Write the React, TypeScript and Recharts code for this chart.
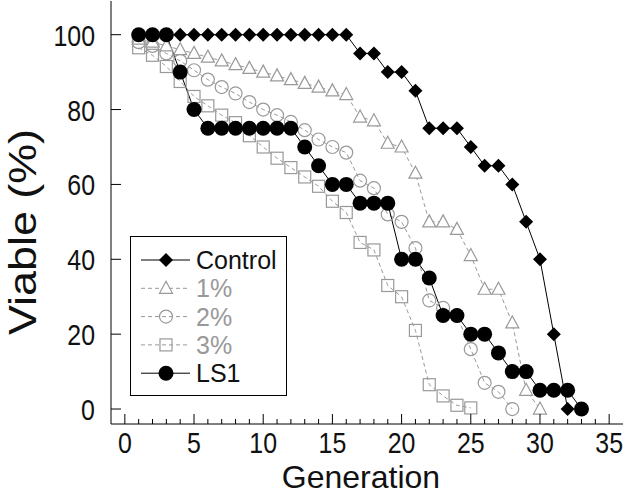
import { LineChart, Line, XAxis, YAxis, Label } from 'recharts';

const generations = [1, 2, 3, 4, 5, 6, 7, 8, 9, 10, 11, 12, 13, 14, 15, 16, 17, 18, 19, 20, 21, 22, 23, 24, 25, 26, 27, 28, 29, 30, 31, 32, 33];

const control = [100, 100, 100, 100, 100, 100, 100, 100, 100, 100, 100, 100, 100, 100, 100, 100, 95, 95, 90, 90, 85, 75, 75, 75, 70, 65, 65, 60, 50, 40, 20, 0];
const pct1 = [98.8, 98, 97, 96, 95, 94, 93, 92, 91, 90, 89, 88, 87, 86, 85, 84, 78, 77, 71, 70, 63, 50, 50, 48, 41, 32, 32, 23, 5, 0];
const pct2 = [98, 97, 95, 93, 90.5, 88, 86, 84.3, 82, 80, 78.5, 76.7, 74.5, 72, 70, 68.5, 61, 59, 52, 50, 43, 29, 27, 25, 16, 7, 4.6, 0];
const pct3 = [96.5, 94.5, 91.5, 87.5, 83.5, 81, 78.5, 76.5, 73, 70, 67, 64.5, 62, 59.5, 55.5, 52.5, 44.5, 42.5, 33, 30, 21, 6.5, 3.5, 1, 0.3];
const ls1 = [100, 100, 100, 90, 80, 75, 75, 75, 75, 75, 75, 75, 70, 65, 60, 60, 55, 55, 55, 40, 40, 35, 25, 25, 20, 20, 15, 10, 10, 5, 5, 5, 0];

const xTicks = [0, 1, 2, 3, 4, 5, 6, 7, 8, 9, 10, 11, 12, 13, 14, 15, 16, 17, 18, 19, 20, 21, 22, 23, 24, 25, 26, 27, 28, 29, 30, 31, 32, 33, 34, 35];
const yTicks = [0, 20, 40, 60, 80, 100];

const GRAY = '#999999';
const FONT = '"Liberation Sans", Arial, sans-serif';

const data = generations.map((g, i) => ({
  gen: g,
  control: control[i] ?? null,
  pct1: pct1[i] ?? null,
  pct2: pct2[i] ?? null,
  pct3: pct3[i] ?? null,
  ls1: ls1[i] ?? null,
}));

// marker shapes
const diamond = (cx: number, cy: number, r: number, key?: any) => (
  <path key={key} d={`M${cx},${cy - r}L${cx + r},${cy}L${cx},${cy + r}L${cx - r},${cy}Z`} fill="#000" />
);
const triangle = (cx: number, cy: number, key?: any) => (
  <path key={key} d={`M${cx},${cy - 7}L${cx + 6.5},${cy + 5}L${cx - 6.5},${cy + 5}Z`} fill="#fff" stroke={GRAY} strokeWidth={1.2} />
);
const ring = (cx: number, cy: number, key?: any) => (
  <circle key={key} cx={cx} cy={cy} r={6.5} fill="none" stroke={GRAY} strokeWidth={1.2} />
);
const square = (cx: number, cy: number, key?: any) => (
  <rect key={key} x={cx - 6} y={cy - 6} width={12} height={12} fill="none" stroke={GRAY} strokeWidth={1.2} />
);
const blob = (cx: number, cy: number, key?: any) => <circle key={key} cx={cx} cy={cy} r={7.5} fill="#000" />;

const dotOf = (draw: (cx: number, cy: number, key?: any) => any) => (p: any) => {
  if (p.cx == null || p.cy == null || p.value == null) return <g key={p.index} />;
  return draw(p.cx, p.cy, p.index);
};

const BottomTick = (p: any) => {
  const v = p.payload.value;
  const major = v % 5 === 0;
  return (
    <g>
      <line x1={p.x} x2={p.x} y1={p.y} y2={p.y - (major ? 10 : 5)} stroke="#000" />
      {major && (
        <text transform={`translate(${p.x},${p.y + 29}) scale(0.86,1)`} textAnchor="middle" fontSize={29} fontFamily={FONT} fill="#111">
          {v}
        </text>
      )}
    </g>
  );
};

const TopTick = (p: any) => {
  const major = p.payload.value % 5 === 0;
  return <line x1={p.x} x2={p.x} y1={p.y} y2={p.y + (major ? 10 : 5)} stroke="#000" />;
};

const LeftTick = (p: any) => (
  <g>
    <line x1={p.x} x2={p.x + 10} y1={p.y} y2={p.y} stroke="#000" />
    <text transform={`translate(${p.x - 16},${p.y + 11}) scale(0.86,1)`} textAnchor="end" fontSize={29} fontFamily={FONT} fill="#111">
      {p.payload.value}
    </text>
  </g>
);

const RightTick = (p: any) => <line x1={p.x} x2={p.x - 10} y1={p.y} y2={p.y} stroke="#000" />;

const legendItems = [
  { name: 'Control', color: '#000', dash: undefined, mark: (x: number, y: number) => diamond(x, y, 7) },
  { name: '1%', color: GRAY, dash: '4 3', mark: (x: number, y: number) => triangle(x, y) },
  { name: '2%', color: GRAY, dash: '4 3', mark: (x: number, y: number) => ring(x, y) },
  { name: '3%', color: GRAY, dash: '4 3', mark: (x: number, y: number) => square(x, y) },
  { name: 'LS1', color: '#000', dash: undefined, mark: (x: number, y: number) => blob(x, y) },
];

function LegendBox() {
  return (
    <svg width={157} height={160} style={{ position: 'absolute', left: 130, top: 236 }}>
      <rect x={0.5} y={0.5} width={156} height={159} fill="#fff" stroke="#000" />
      {legendItems.map((it, i) => {
        const y = 24 + i * 28.3;
        return (
          <g key={it.name}>
            <line x1={11} x2={60} y1={y} y2={y} stroke={it.color} strokeDasharray={it.dash} />
            {it.mark(36, y)}
            <text x={66} y={y + 9} fontSize={25} fontFamily={FONT} fill={it.color === '#000' ? '#111' : GRAY}>
              {it.name}
            </text>
          </g>
        );
      })}
    </svg>
  );
}

export default function App() {
  return (
    <div style={{ position: 'absolute', left: 0, top: 0, width: 624, height: 494, background: '#fff' }}>
      <LineChart width={624} height={494} data={data} margin={{ top: 1, right: 1, bottom: 0, left: 0 }}>
        <XAxis
          xAxisId="b"
          type="number"
          dataKey="gen"
          domain={[-1, 36]}
          ticks={xTicks}
          interval={0}
          allowDataOverflow
          tickSize={0}
          tickMargin={0}
          tickLine={false}
          tick={BottomTick}
          height={70}
          stroke="#000"
        >
          <Label
            content={() => (
              <text x={361} y={488} textAnchor="middle" fontSize={32} fontFamily={FONT} fill="#111">
                Generation
              </text>
            )}
          />
        </XAxis>
        <XAxis
          xAxisId="t"
          orientation="top"
          type="number"
          dataKey="gen"
          domain={[-1, 36]}
          ticks={xTicks}
          interval={0}
          allowDataOverflow
          tickSize={0}
          tickMargin={0}
          tickLine={false}
          tick={TopTick}
          height={0}
          stroke="#000"
        />
        <YAxis
          yAxisId="l"
          type="number"
          domain={[-4, 109]}
          ticks={yTicks}
          interval={0}
          allowDataOverflow
          tickSize={0}
          tickMargin={0}
          tickLine={false}
          tick={LeftTick}
          width={111}
          stroke="#000"
        >
          <Label
            content={() => (
              <text transform="translate(36,232) rotate(-90) scale(1.18,1)" textAnchor="middle" fontSize={38} fontFamily={FONT} fill="#111">
                Viable (%)
              </text>
            )}
          />
        </YAxis>
        <YAxis
          yAxisId="r"
          orientation="right"
          type="number"
          domain={[-4, 109]}
          ticks={yTicks}
          interval={0}
          allowDataOverflow
          tickSize={0}
          tickMargin={0}
          tickLine={false}
          tick={RightTick}
          width={0}
          stroke="#000"
        />
        <Line xAxisId="b" yAxisId="l" dataKey="pct3" stroke={GRAY} strokeDasharray="4 3" strokeWidth={1} dot={dotOf(square)} isAnimationActive={false} />
        <Line xAxisId="b" yAxisId="l" dataKey="pct2" stroke={GRAY} strokeDasharray="4 3" strokeWidth={1} dot={dotOf(ring)} isAnimationActive={false} />
        <Line xAxisId="b" yAxisId="l" dataKey="pct1" stroke={GRAY} strokeDasharray="4 3" strokeWidth={1} dot={dotOf(triangle)} isAnimationActive={false} />
        <Line xAxisId="b" yAxisId="l" dataKey="control" stroke="#000" strokeWidth={1} dot={dotOf((x, y, k) => diamond(x, y, 7, k))} isAnimationActive={false} />
        <Line xAxisId="b" yAxisId="l" dataKey="ls1" stroke="#000" strokeWidth={1} dot={dotOf(blob)} isAnimationActive={false} />
      </LineChart>
      <LegendBox />
    </div>
  );
}
